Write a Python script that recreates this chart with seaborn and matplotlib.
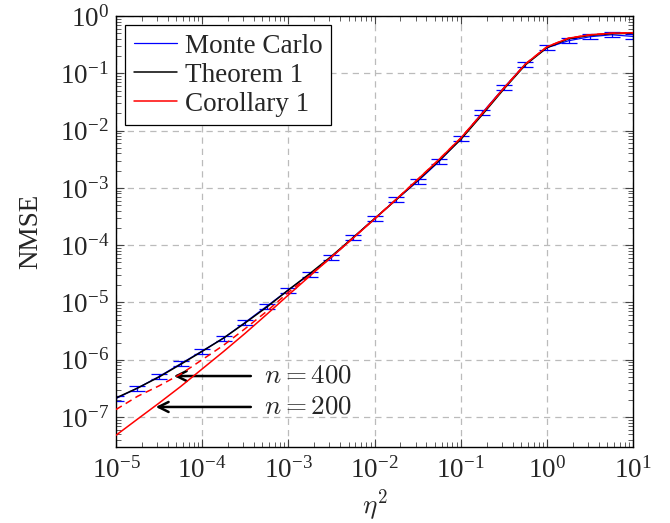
import numpy as np
import pandas as pd
import matplotlib
matplotlib.use("Agg")
import matplotlib.pyplot as plt
import seaborn as sns
from matplotlib.ticker import LogLocator, NullFormatter

# ---- data ----
eta2 = [1e-5, 1.78e-5, 3.16e-5, 5.62e-5, 1e-4, 1.78e-4, 3.16e-4, 5.62e-4,
        1e-3, 1.78e-3, 3.16e-3, 5.62e-3, 1e-2, 1.78e-2, 3.16e-2, 5.62e-2,
        1e-1, 1.78e-1, 3.16e-1, 5.62e-1, 1.0, 1.78, 3.16, 5.62, 10.0]

monte_carlo = [2.1e-7, 3.2e-7, 5.1e-7, 8.5e-7, 1.42e-6, 2.4e-6, 4.5e-6, 8.6e-6,
               1.65e-5, 3.1e-5, 6.1e-5, 1.35e-4, 2.9e-4, 6.2e-4, 1.3e-3, 2.9e-3,
               7.2e-3, 2.05e-2, 5.6e-2, 0.145, 0.28, 0.37, 0.435, 0.47, 0.44]
mc_rel_err = [0.1] * 25

theorem1 = [2.15e-7, 3.2e-7, 5.0e-7, 8.3e-7, 1.4e-6, 2.4e-6, 4.4e-6, 8.3e-6,
            1.65e-5, 3.2e-5, 6.4e-5, 1.35e-4, 2.9e-4, 6.2e-4, 1.35e-3, 3.0e-3,
            7.0e-3, 1.9e-2, 5.3e-2, 0.14, 0.28, 0.40, 0.46, 0.49, 0.50]

corollary1_n400 = [1.35e-7, 2.3e-7, 3.5e-7, 5.6e-7, 1.0e-6, 1.8e-6, 3.5e-6, 7.0e-6,
                   1.5e-5, 3.0e-5, 6.2e-5, 1.33e-4, 2.9e-4, 6.3e-4, 1.4e-3, 3.15e-3,
                   7.4e-3, 2.0e-2, 5.5e-2, 0.145, 0.29, 0.41, 0.47, 0.50, 0.51]

corollary1_n200 = [4.8e-8, 9.2e-8, 1.75e-7, 3.4e-7, 6.9e-7, 1.4e-6, 2.9e-6, 6.2e-6,
                   1.35e-5, 2.9e-5, 6.2e-5, 1.32e-4, 2.85e-4, 6.3e-4, 1.4e-3, 3.15e-3,
                   7.4e-3, 2.0e-2, 5.5e-2, 0.145, 0.29, 0.41, 0.47, 0.50, 0.51]

xticks = [1e-5, 1e-4, 1e-3, 1e-2, 1e-1, 1e0, 1e1]
yticks = [1e-7, 1e-6, 1e-5, 1e-4, 1e-3, 1e-2, 1e-1, 1e0]

# ---- style ----
sns.set_style("ticks")
plt.rcParams["font.family"] = ["Liberation Serif", "DejaVu Serif"]
plt.rcParams["mathtext.fontset"] = "cm"

FS = 19.5

df = pd.DataFrame({"eta2": eta2, "mc": monte_carlo, "th": theorem1,
                   "c400": corollary1_n400, "c200": corollary1_n200})

fig = plt.figure(figsize=(6.7, 5.23), dpi=100)
ax = fig.add_axes([0.173, 0.1453, 0.772, 0.8241])

mc = np.array(monte_carlo)
rel = np.array(mc_rel_err)
yerr = np.vstack([mc * rel, mc * rel])
ax.errorbar(eta2, monte_carlo, yerr=yerr, fmt="none", ecolor="blue",
            elinewidth=0.9, capsize=6, capthick=0.9, zorder=2)
sns.lineplot(data=df, x="eta2", y="mc", ax=ax, color="blue", lw=0.9,
             label="Monte Carlo", zorder=2)
sns.lineplot(data=df, x="eta2", y="th", ax=ax, color="black", lw=1.1,
             label="Theorem 1", zorder=3)
sns.lineplot(data=df, x="eta2", y="c200", ax=ax, color="red", lw=1.1,
             label="Corollary 1", zorder=4)
sns.lineplot(data=df, x="eta2", y="c400", ax=ax, color="red", lw=1.1,
             linestyle=(0, (4.5, 3)), zorder=4)

ax.set_xscale("log")
ax.set_yscale("log")
ax.set_xlim(1e-5, 1e1)
ax.set_ylim(3e-8, 1e0)
ax.set_xticks(xticks)
ax.set_yticks(yticks)
ax.xaxis.set_minor_locator(LogLocator(base=10, subs=np.arange(2, 10), numticks=50))
ax.yaxis.set_minor_locator(LogLocator(base=10, subs=np.arange(2, 10), numticks=50))
ax.xaxis.set_minor_formatter(NullFormatter())
ax.yaxis.set_minor_formatter(NullFormatter())

ax.tick_params(which="both", direction="in", top=True, right=True,
               color="#444444", labelsize=FS)
ax.tick_params(which="major", length=6, width=0.8)
ax.tick_params(which="minor", length=3.5, width=0.6)
ax.tick_params(axis="x", pad=7)
ax.tick_params(axis="y", pad=5)
for s in ax.spines.values():
    s.set_linewidth(1.0)
    s.set_color("black")

ax.grid(True, which="major", color="#bbbbbb", linestyle=(0, (5, 4)), lw=0.9)
ax.set_axisbelow(True)

ax.set_xlabel(r"$\eta^2$", fontsize=FS, labelpad=3)
ax.set_ylabel("NMSE", fontsize=FS, labelpad=12)

leg = ax.legend(loc="upper left", fontsize=FS, frameon=True, fancybox=False,
                edgecolor="black", framealpha=1, handlelength=1.6,
                borderpad=0.3, labelspacing=0.15, handletextpad=0.3,
                borderaxespad=0.35)
leg.get_frame().set_linewidth(0.9)

ax.annotate(r"$n = 400$", xy=(4.7e-5, 5.2e-7), xytext=(5.2e-4, 5.2e-7),
            fontsize=FS, va="center", ha="left",
            arrowprops=dict(arrowstyle="->", color="black", lw=1.8,
                            shrinkA=7, shrinkB=0, mutation_scale=18))
ax.annotate(r"$n = 200$", xy=(2.9e-5, 1.5e-7), xytext=(5.2e-4, 1.5e-7),
            fontsize=FS, va="center", ha="left",
            arrowprops=dict(arrowstyle="->", color="black", lw=1.8,
                            shrinkA=7, shrinkB=0, mutation_scale=18))

fig.savefig("out.png", dpi=100)
